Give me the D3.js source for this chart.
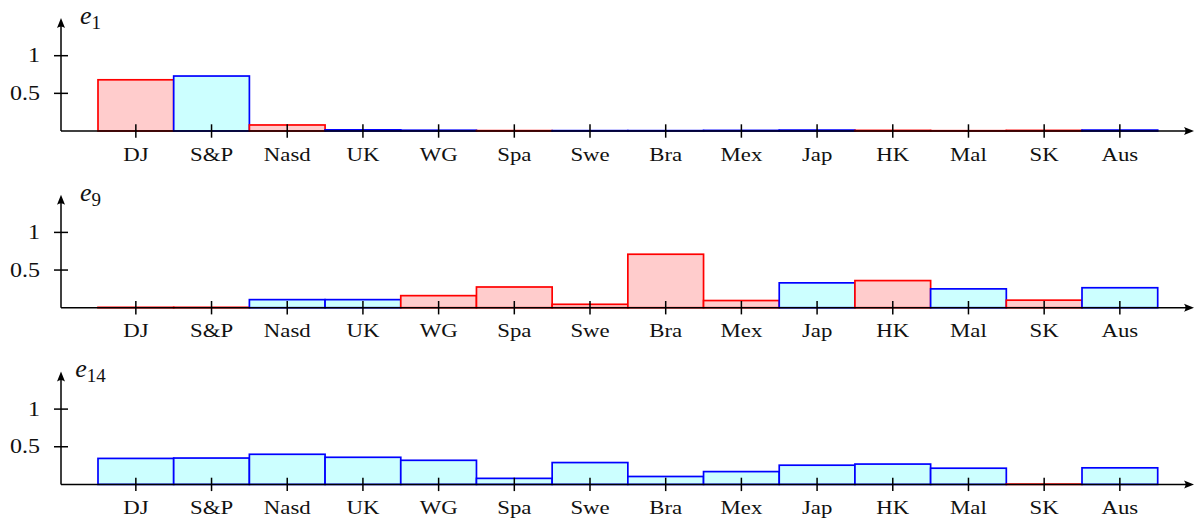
<!DOCTYPE html>
<html>
<head>
<meta charset="utf-8">
<script src="https://cdn.jsdelivr.net/npm/d3@7"></script>
<style>
  html, body { margin: 0; padding: 0; background: #fff; }
  svg { display: block; }
  text { font-family: "Liberation Serif", "DejaVu Serif", serif; fill: #111; }
</style>
</head>
<body>
<svg id="chart" width="1197" height="520"></svg>
<script>
// Market indices along the horizontal axis
const categories = ["DJ", "S&P", "Nasd", "UK", "WG", "Spa", "Swe", "Bra", "Mex", "Jap", "HK", "Mal", "SK", "Aus"];

// Eigenvector components (signed); bar height is the magnitude, colour is the sign
const e1  = [-0.68, 0.73, -0.08, 0.015, 0.01, -0.005, 0.005, 0.005, 0.008, 0.012, -0.008, -0.004, -0.008, 0.012];
const e9  = [-0.005, -0.005, 0.107, 0.107, -0.16, -0.275, -0.045, -0.71, -0.095, 0.33, -0.36, 0.25, -0.10, 0.265];
const e14 = [0.345, 0.35, 0.40, 0.36, 0.32, 0.08, 0.29, 0.105, 0.17, 0.255, 0.27, 0.215, -0.004, 0.22];

const panelNames = ["1", "9", "14"];
const panelValues = [e1, e9, e14];
const yTicks = [0.5, 1];

const svg = d3.select("#chart");

const x = d3.scaleBand().domain(categories).range([98, 1157.7]).padding(0);

const axisLeft = 61;
const axisRight = 1194;
const firstBase = 131;
const panelGap = 176.7;
const unit = 75.3;
const textStretch = 1.2;   // slightly wide lettering

// stealth-style arrow tip pointing along +x, tip at the origin
const tipPath = "M0,0 L-10,-4 Q-7,0 -10,4 Z";

panelValues.forEach((vals, i) => {
  const base = firstBase + i * panelGap;
  const y = d3.scaleLinear().domain([0, 1]).range([base, base - unit]);
  const g = svg.append("g");

  // bars
  g.selectAll("rect.bar")
    .data(categories.map((c, k) => ({ c, v: vals[k] })))
    .join("rect")
    .attr("class", "bar")
    .attr("x", d => x(d.c))
    .attr("width", x.bandwidth())
    .attr("y", d => y(Math.abs(d.v)))
    .attr("height", d => base - y(Math.abs(d.v)))
    .attr("fill", d => d.v < 0 ? "#ffcccc" : "#ccffff")
    .attr("stroke", d => d.v < 0 ? "#ff0000" : "#0000ff")
    .attr("stroke-width", 1.7);

  // horizontal axis with arrow
  g.append("line")
    .attr("x1", axisLeft).attr("x2", axisRight - 4)
    .attr("y1", base).attr("y2", base)
    .attr("stroke", "#000").attr("stroke-width", 1.5);
  g.append("path")
    .attr("d", tipPath)
    .attr("transform", `translate(${axisRight},${base})`)
    .attr("fill", "#000");

  // vertical axis with arrow
  const topY = base - 113;
  g.append("line")
    .attr("x1", axisLeft).attr("x2", axisLeft)
    .attr("y1", base).attr("y2", topY + 4)
    .attr("stroke", "#000").attr("stroke-width", 1.5);
  g.append("path")
    .attr("d", tipPath)
    .attr("transform", `translate(${axisLeft},${topY}) rotate(-90)`)
    .attr("fill", "#000");

  // category ticks and labels
  g.selectAll("line.xt")
    .data(categories)
    .join("line")
    .attr("class", "xt")
    .attr("x1", d => x(d) + x.bandwidth() / 2)
    .attr("x2", d => x(d) + x.bandwidth() / 2)
    .attr("y1", base - 6.7).attr("y2", base + 6.7)
    .attr("stroke", "#000").attr("stroke-width", 1.5);
  g.selectAll("text.xl")
    .data(categories)
    .join("text")
    .attr("class", "xl")
    .attr("transform", d => `translate(${x(d) + x.bandwidth() / 2},${base + 29.5}) scale(${textStretch},1)`)
    .attr("text-anchor", "middle")
    .attr("font-size", 19)
    .text(d => d);

  // value ticks and labels
  g.selectAll("line.yt")
    .data(yTicks)
    .join("line")
    .attr("class", "yt")
    .attr("x1", axisLeft - 7).attr("x2", axisLeft + 7)
    .attr("y1", d => y(d)).attr("y2", d => y(d))
    .attr("stroke", "#000").attr("stroke-width", 1.5);
  g.selectAll("text.yl")
    .data(yTicks)
    .join("text")
    .attr("class", "yl")
    .attr("transform", d => `translate(40,${y(d) + 6.5}) scale(${textStretch},1)`)
    .attr("text-anchor", "end")
    .attr("font-size", 20)
    .text(d => d);

  // panel label e_n
  const lab = g.append("text")
    .attr("x", 90.5)
    .attr("y", topY + 6)
    .attr("text-anchor", "middle");
  lab.append("tspan")
    .attr("font-style", "italic")
    .attr("font-size", 26)
    .text("e");
  lab.append("tspan")
    .attr("font-size", 19)
    .attr("dy", 5)
    .text(panelNames[i]);
});
</script>
</body>
</html>
